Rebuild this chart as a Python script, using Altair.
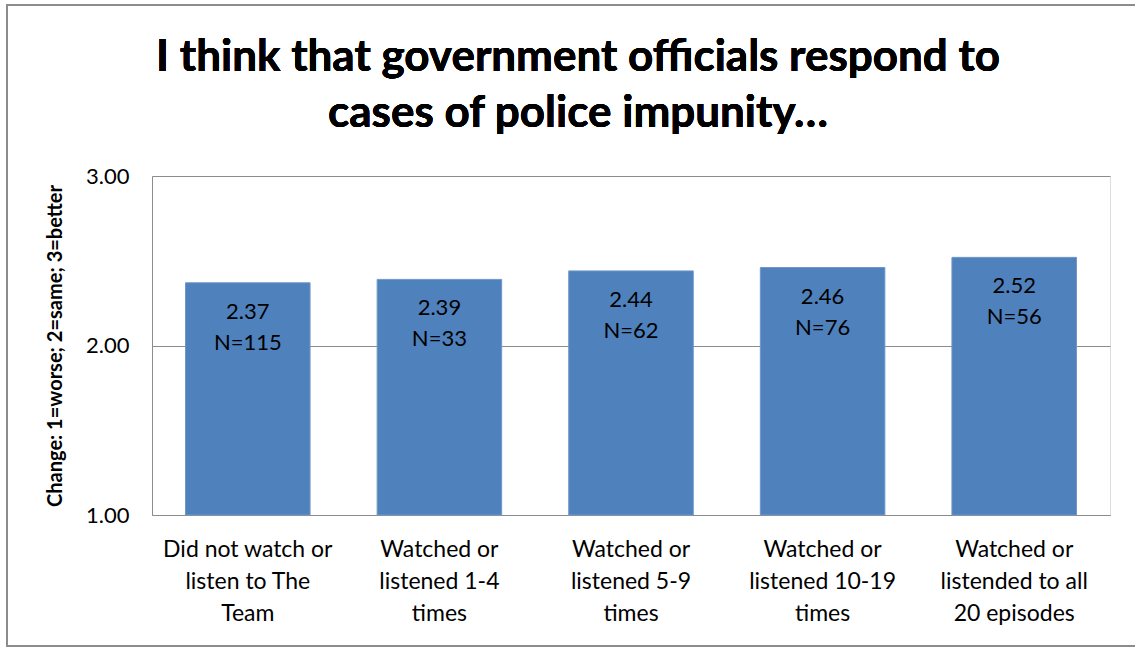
import altair as alt
import pandas as pd

categories = [
    "Did not watch or\nlisten to The\nTeam",
    "Watched or\nlistened 1-4\ntimes",
    "Watched or\nlistened 5-9\ntimes",
    "Watched or\nlistened 10-19\ntimes",
    "Watched or\nlistended to all\n20 episodes",
]
means = [2.37, 2.39, 2.44, 2.46, 2.52]
counts = [115, 33, 62, 76, 56]
y_ticks = [1.0, 2.0, 3.0]
title_lines = ["I think that government officials respond to", "cases of police impunity…"]

df = pd.DataFrame({
    "cat": categories,
    "mean": means,
    "n": counts,
})
df["label"] = [f"{m:.2f}\nN={n}" for m, n in zip(means, counts)]
df["base"] = 1.0

FONT = "Lato"
W, H = 958, 339
LEFT, TOP = 152, 176

x_enc = alt.X("cat:N", sort=categories, title=None,
              scale=alt.Scale(paddingInner=0.35, paddingOuter=0.175),
              axis=alt.Axis(labelExpr="split(datum.label, '\\n')", labelAngle=0,
                            labelFontSize=23, labelLineHeight=32, labelPadding=23,
                            labelFont=FONT, labelColor="#000000", ticks=False,
                            domainColor="#8c8c8c", labelBaseline="top"))
y_enc = alt.Y("mean:Q", title="Change: 1=worse; 2=same; 3=better",
              scale=alt.Scale(domain=[1, 3], nice=False, zero=False),
              axis=alt.Axis(values=y_ticks, format=".2f", labelFontSize=22, labelFont=FONT,
                            labelColor="#000000", labelPadding=23, ticks=False,
                            grid=True, gridColor="#8c8c8c", domainColor="#8c8c8c",
                            titleFont=FONT, titleFontSize=20, titleFontWeight="bold",
                            titleColor="#000000", titleX=55 - LEFT, titleY=H / 2,
                            titleAngle=270, titleAlign="center", titleBaseline="middle"))

bars = alt.Chart(df).mark_bar(color="#4F81BD", stroke="#7097c9", strokeWidth=1).encode(
    x=x_enc, y=y_enc, y2="base:Q")

labels = alt.Chart(df).mark_text(
    baseline="top", dy=19, fontSize=22, lineHeight=31, font=FONT,
    color="#000000", lineBreak="\n"
).encode(x=alt.X("cat:N", sort=categories), y=alt.Y("mean:Q"), text="label:N")

frame = alt.Chart(df).mark_rect(fill=None, stroke="#8c8c8c", strokeWidth=2).encode(
    x=alt.value(7 - LEFT), x2=alt.value(1140 - LEFT),
    y=alt.value(5 - TOP), y2=alt.value(646 - TOP))

title = alt.Chart(df).mark_text(
    font=FONT, fontSize=44, fontWeight="bold", color="#000000",
    align="center", baseline="alphabetic", lineHeight=56
).encode(x=alt.value(578 - LEFT), y=alt.value(71 - TOP), text=alt.value(title_lines))

chart = alt.layer(frame, title, bars, labels).properties(
    width=W, height=H,
    autosize=alt.AutoSizeParams(type="none"),
    padding={"left": LEFT, "top": TOP, "right": 1135 - LEFT - W, "bottom": 647 - TOP - H},
).configure_view(stroke=None).configure(background="white")

chart.save("out.html", embed_options={"renderer": "svg", "actions": False})
